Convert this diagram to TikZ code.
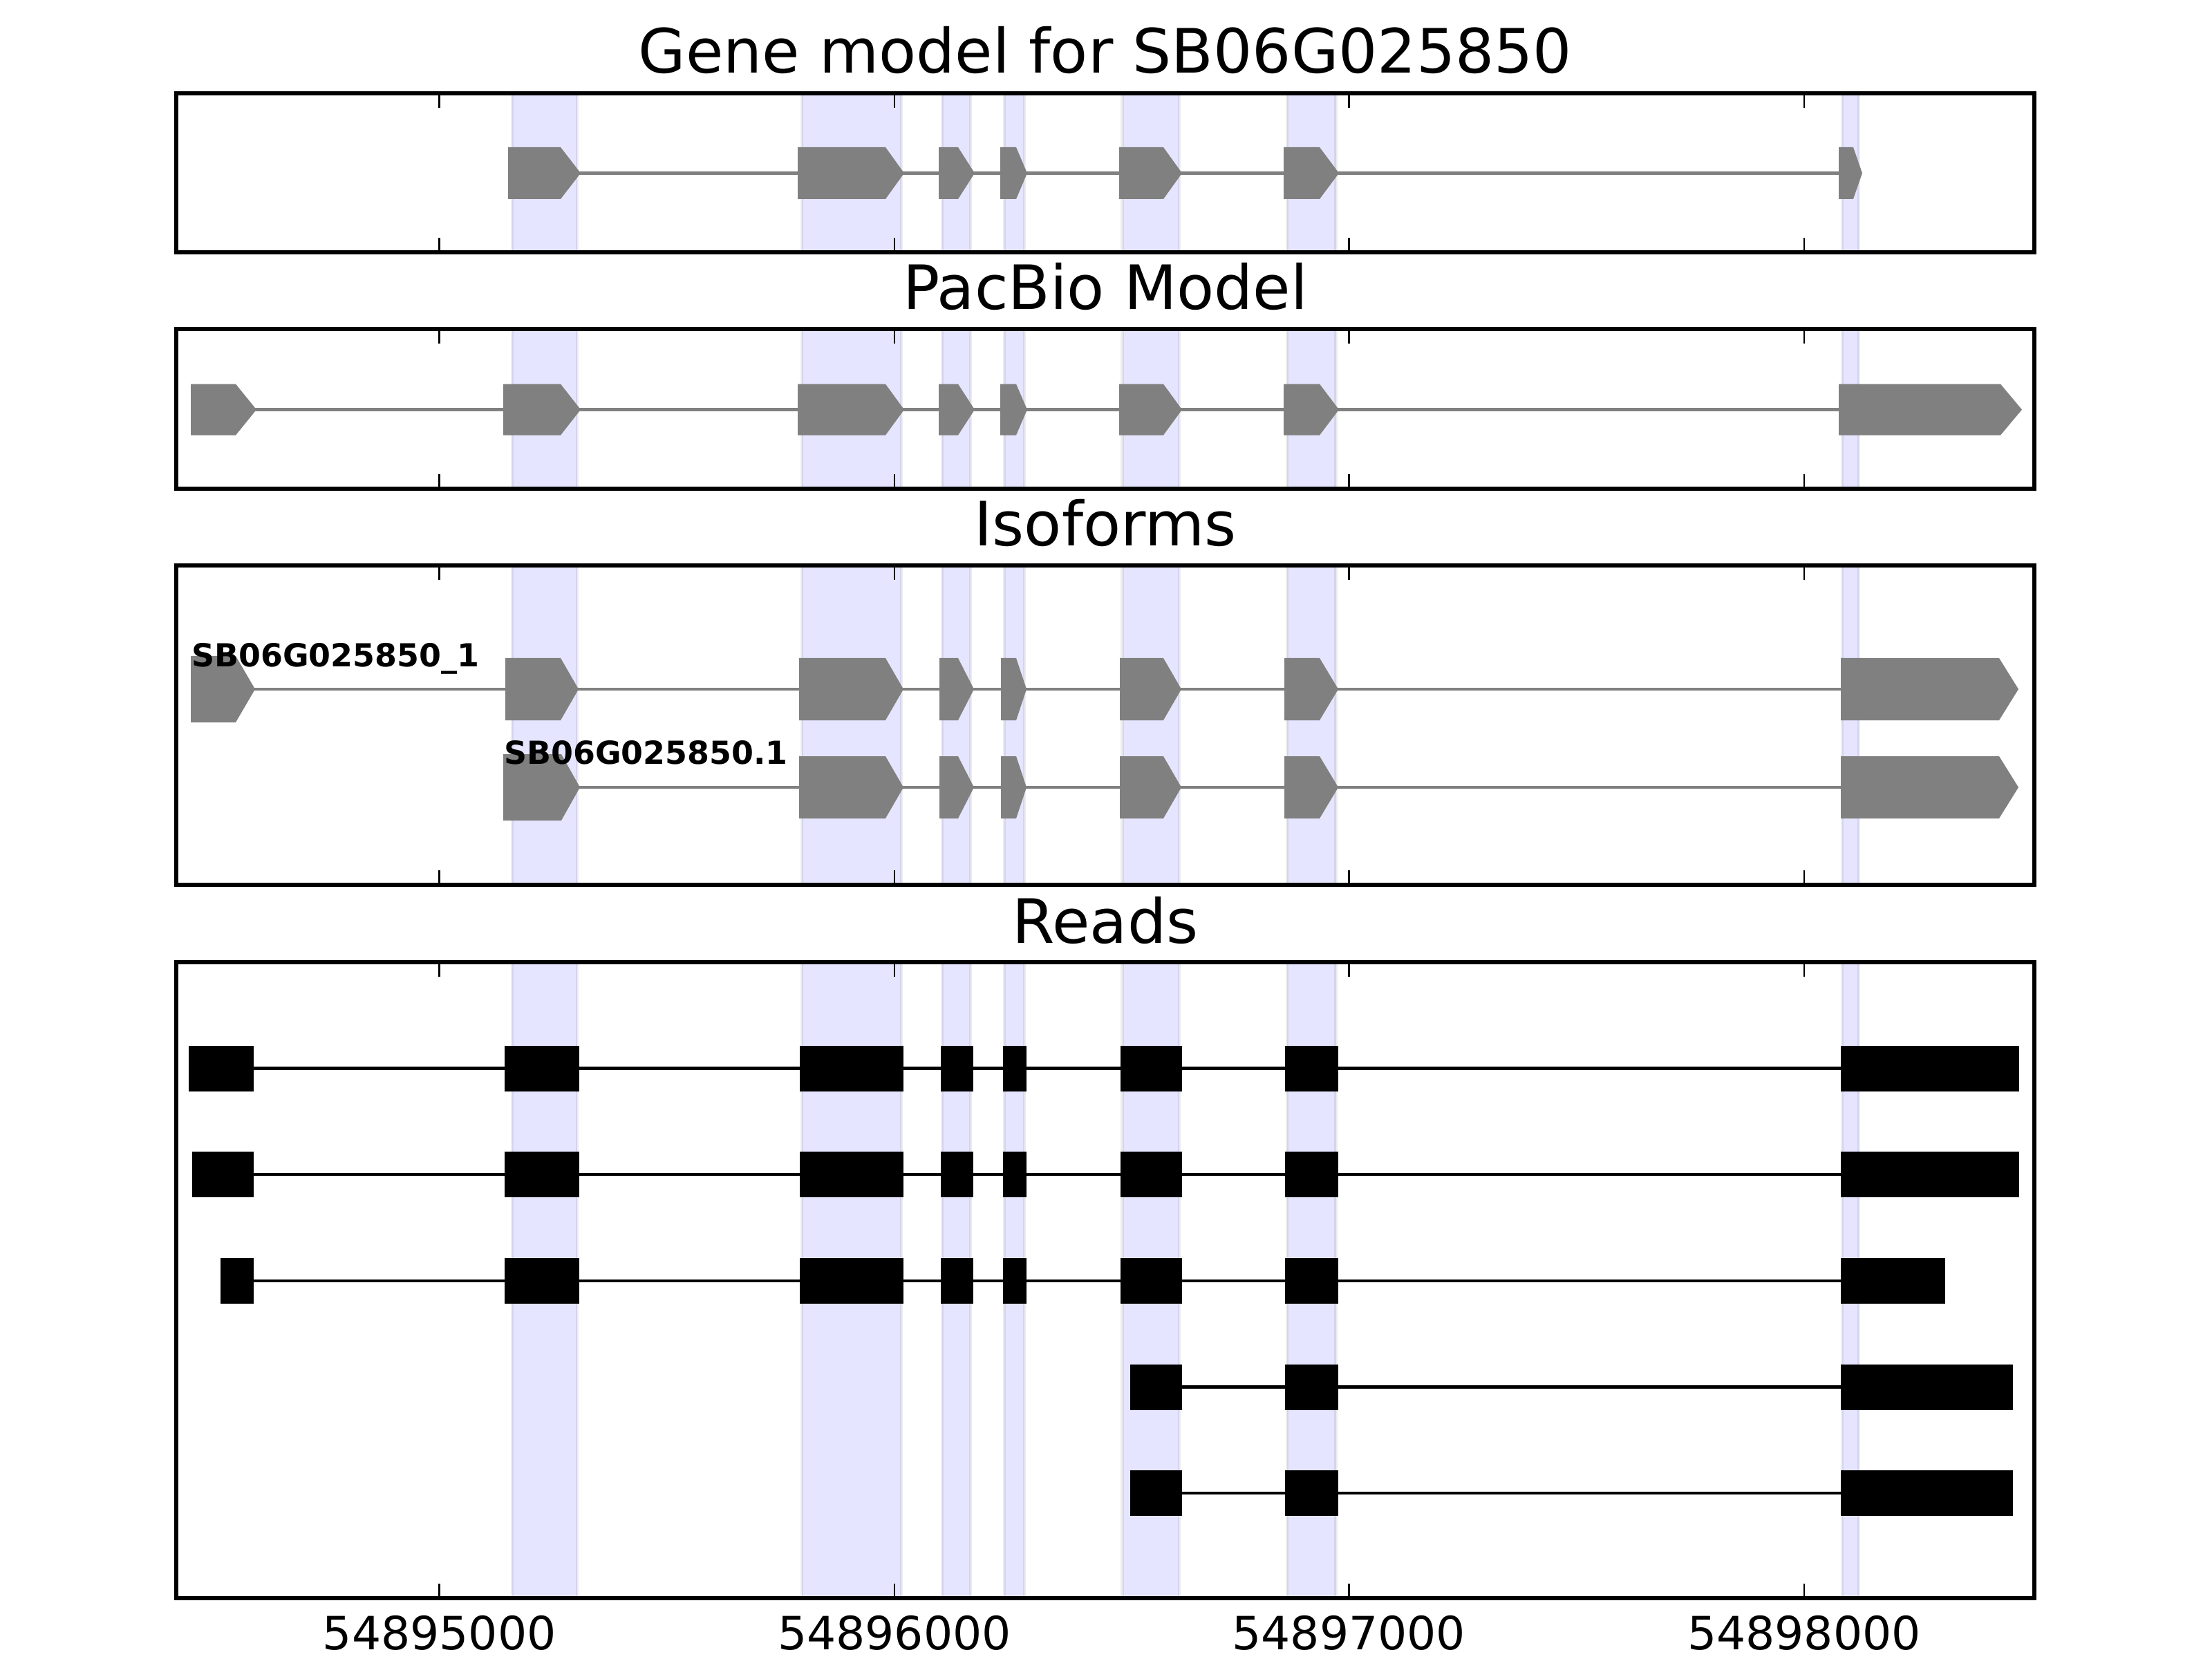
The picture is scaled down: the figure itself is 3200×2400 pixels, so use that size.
\documentclass[tikz,border=0pt]{standalone}
\usepackage{fontspec}
\setmainfont{DejaVu Sans}
\newcommand\gexon[5]{\fill[exonshape] (#1,{#4-#5}) -- (#2,{#4-#5}) -- (#3,#4) -- (#2,{#4+#5}) -- (#1,{#4+#5}) -- cycle;}
\begin{document}
\begin{tikzpicture}[x=0.0025in,y=-0.0025in,
  band/.style={fill=blue,fill opacity=0.1,draw=black,draw opacity=0.07,line width=0.75pt},
  frame/.style={draw=black,line width=1pt},
  tickmark/.style={draw=black,line width=0.5pt},
  intron/.style={draw=gray,line width=0.8pt},
  readintron/.style={draw=black,line width=0.75pt},
  exonshape/.style={fill=gray},
  readexon/.style={fill=black},
  paneltitle/.style={font=\fontsize{16}{19}\selectfont,anchor=base,inner sep=0pt},
  ticklabel/.style={font=\fontsize{12}{14}\selectfont,anchor=base,inner sep=0pt},
  isolabel/.style={font=\fontsize{8.3}{10}\selectfont\bfseries,anchor=base west,inner sep=0pt}]

\useasboundingbox (0,0) rectangle (3200,2400);
\fill[white] (0,0) rectangle (3200,2400);

% shaded exon bands
\foreach \yt/\yb in {135/365,476/707,818/1280,1392/2312}{
  \foreach \xl/\xr in {741/835,1160/1304,1363/1404,1453/1482,1623.5/1706,1862/1932.5,2665/2689}{
    \path[band] (\xl,\yt) rectangle (\xr,\yb);
  }
}

% ---------- Panel 1: gene model ----------
\draw[intron] (735,250.5) -- (2660,250.5);
\foreach \xl/\xn/\xt in {735/811/840,1154/1281/1308,1358/1386/1410,1447/1470/1486,1619/1683/1710,1857/1909/1937,2660/2681/2694}{
  \gexon{\xl}{\xn}{\xt}{250.5}{37.5}
}

% ---------- Panel 2: PacBio model ----------
\draw[intron] (276,592.6) -- (2660,592.6);
\foreach \xl/\xn/\xt in {276/341/371,728/811/840,1154/1281/1308,1358/1386/1410,1447/1470/1486,1619/1683/1710,1857/1909/1937,2660/2894/2925}{
  \gexon{\xl}{\xn}{\xt}{592.6}{37}
}

% ---------- Panel 3: isoforms ----------
\draw[intron] (276,997) -- (2663,997);
\gexon{276}{341}{369}{997}{48}
\foreach \xl/\xn/\xt in {731/811/837,1156/1281/1307,1359/1386/1409,1448/1470/1485,1620/1683/1709,1858/1909/1936,2663/2892/2920}{
  \gexon{\xl}{\xn}{\xt}{997}{45}
}
\draw[intron] (728,1139) -- (2663,1139);
\gexon{728}{812}{839}{1139}{48}
\foreach \xl/\xn/\xt in {1156/1281/1307,1359/1386/1409,1448/1470/1485,1620/1683/1709,1858/1909/1936,2663/2892/2920}{
  \gexon{\xl}{\xn}{\xt}{1139}{45}
}
\node[isolabel] (iso1) at (276,964) {SB06G025850\_1};
\node[isolabel] (iso2) at (728,1106) {SB06G025850.1};

% ---------- Panel 4: reads ----------
% row 1
\draw[readintron] (273,1545.5) -- (2663,1545.5);
\foreach \xl/\xr in {273/367,730/838,1157/1307,1361/1408,1451/1485,1621/1710,1859/1936,2663/2921}{
  \fill[readexon] (\xl,1512.5) rectangle (\xr,1578.5);
}
% row 2
\draw[readintron] (278,1699) -- (2663,1699);
\foreach \xl/\xr in {278/367,730/838,1157/1307,1361/1408,1451/1485,1621/1710,1859/1936,2663/2921}{
  \fill[readexon] (\xl,1666) rectangle (\xr,1732);
}
% row 3
\draw[readintron] (319,1852.7) -- (2663,1852.7);
\foreach \xl/\xr in {319/367,730/838,1157/1307,1361/1408,1451/1485,1621/1710,1859/1936,2663/2813.5}{
  \fill[readexon] (\xl,1819.7) rectangle (\xr,1885.7);
}
% row 4
\draw[readintron] (1634.5,2006.5) -- (2663,2006.5);
\foreach \xl/\xr in {1634.5/1710,1859/1936,2663/2912}{
  \fill[readexon] (\xl,1973.5) rectangle (\xr,2039.5);
}
% row 5
\draw[readintron] (1634.5,2160) -- (2663,2160);
\foreach \xl/\xr in {1634.5/1710,1859/1936,2663/2912}{
  \fill[readexon] (\xl,2127) rectangle (\xr,2193);
}

% ---------- frames and ticks ----------
\foreach \yt/\yb in {135/365,476/707,818/1280,1392/2312}{
  \draw[frame] (255,\yt) rectangle (2943,\yb);
  \foreach \xk in {635.7,1294,1951.3,2610}{
    \draw[tickmark] (\xk,\yt) -- (\xk,{\yt+21});
    \draw[tickmark] (\xk,\yb) -- (\xk,{\yb-21});
  }
}

% titles
\node[paneltitle] (title1) at (1599,106) {Gene model for SB06G025850};
\node[paneltitle] (title2) at (1599,448) {PacBio Model};
\node[paneltitle] (title3) at (1599,790) {Isoforms};
\node[paneltitle] (title4) at (1599,1364) {Reads};

% tick labels
\node[ticklabel] (tl1) at (635.7,2386) {54895000};
\node[ticklabel] (tl2) at (1294,2386) {54896000};
\node[ticklabel] (tl3) at (1951.3,2386) {54897000};
\node[ticklabel] (tl4) at (2610,2386) {54898000};
\end{tikzpicture}
\end{document}
